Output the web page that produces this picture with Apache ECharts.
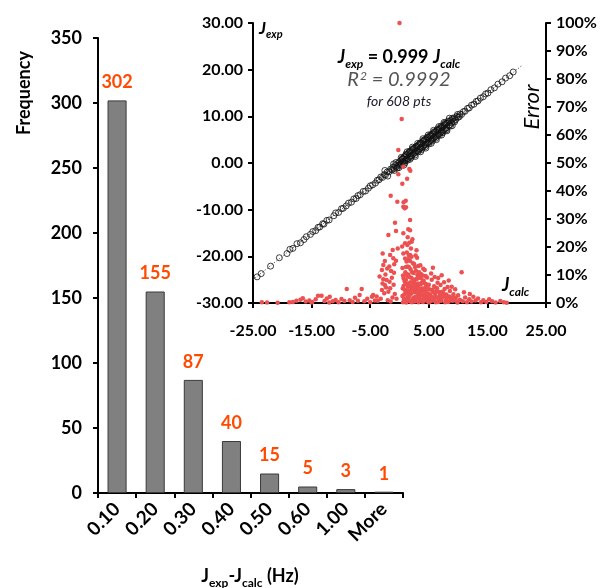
<!DOCTYPE html>
<html><head><meta charset="utf-8">
<script src="https://cdn.jsdelivr.net/npm/echarts@6/dist/echarts.min.js"></script>
<style>html,body{margin:0;padding:0;background:#fff}#c{width:607px;height:588px}</style>
</head><body><div id="c"></div>
<script>
// ---- histogram data ----
const binLabels = ['0.10','0.20','0.30','0.40','0.50','0.60','1.00','More'];
const binCounts = [302,155,87,40,15,5,3,1];
const freqTicks = {min:0,max:350,step:50};

// ---- inset: Jexp vs Jcalc (black circles) ----
const corrPts = [
[-24.3,-24.4],[-23.6,-23.7],[-22.0,-22.1],[-20.5,-20.3],[-19.2,-19.4],[-18.7,-18.5],[-18.2,-18.3],[-17.5,-17.3],[-16.9,-17.1],[-16.3,-16.4],[-15.9,-15.8],[-15.2,-15.3],[-14.8,-14.7],[-14.3,-14.5],[-13.9,-13.8],[-13.6,-13.7],[-13.1,-13.0],[-12.9,-13.1],[-12.4,-12.3],[-12.0,-12.2],[-11.2,-11.3],[-10.9,-10.7],[-10.4,-10.6],[-9.9,-9.8],[-9.6,-9.7],[-9.1,-9.2],[-8.7,-8.6],[-8.2,-8.4],[-7.8,-7.7],[-7.4,-7.6],[-7.1,-7.0],[-6.7,-6.8],[-6.2,-6.1],[-5.8,-6.0],[-5.3,-5.4],[-5.0,-4.9],[-4.6,-4.7],[-4.1,-4.3],[-3.8,-3.7],[-3.5,-3.6],[-3.2,-3.0],[-2.9,-3.1],[-2.6,-2.5],[-2.4,-2.6],[-2.1,-1.9],[-1.8,-1.9],[-1.5,-1.3],[-1.3,-1.5],[-1.1,-0.9],[-0.9,-1.2],[-0.7,-0.5],[-0.5,-0.8],[-0.3,-0.1],[-0.2,-0.5],
[0.0,0.3],[0.1,-0.3],[0.2,0.5],[0.3,-0.1],[0.4,0.8],[0.5,0.2],[0.6,0.9],[0.7,0.1],[0.8,1.3],[0.9,0.5],[1.0,1.5],[1.1,0.6],[1.2,1.7],[1.3,0.9],[1.4,1.9],[1.5,1.0],[1.6,2.2],[1.7,1.3],[1.8,2.4],[1.9,1.5],[2.0,2.6],[2.1,1.6],[2.2,2.8],[2.3,1.9],[2.4,3.0],[2.5,2.1],[2.6,3.2],[2.7,2.3],[2.8,3.4],[2.9,2.5],[3.0,3.6],[3.1,2.6],[3.2,3.8],[3.3,2.9],[3.4,4.0],[3.5,3.0],[3.6,4.2],[3.7,3.3],[3.8,4.3],[3.9,3.4],[4.0,4.6],[4.1,3.6],[4.2,4.8],[4.3,3.9],[4.4,5.0],[4.5,4.0],[4.6,5.1],[4.7,4.2],[4.8,5.4],[4.9,4.4],[5.0,5.5],[5.1,4.6],[5.2,5.8],[5.3,4.8],[5.4,5.9],[5.5,5.0],[5.6,6.2],[5.7,5.2],[5.8,6.3],[5.9,5.4],[6.0,6.6],[6.1,5.6],[6.2,6.7],[6.3,5.8],[6.4,7.0],[6.5,6.0],[6.6,7.1],[6.7,6.2],[6.8,7.3],[6.9,6.4],[7.0,7.5],[7.1,6.6],[7.2,7.7],[7.3,6.8],[7.4,7.9],[7.5,7.0],[7.6,8.1],[7.7,7.2],[7.8,8.3],[7.9,7.4],[8.0,8.5],[8.1,7.6],[8.2,8.6],[8.4,8.0],[8.5,8.9],[8.6,8.2],[8.8,9.1],[8.9,8.6],[9.1,9.4],[9.2,8.9],[9.4,9.7],[9.6,9.3],[9.8,10.0],[10.0,9.8],[10.3,10.5],[10.6,10.4],[10.9,11.0],[11.2,11.1],[11.6,11.7],[11.9,11.8],[12.3,12.4],[12.7,12.6],[13.1,13.2],[13.4,13.3],[13.8,13.9],[14.3,14.2],[14.7,14.8],[15.1,15.0],[15.6,15.7],[16.2,16.1],[16.8,16.9],[17.5,17.4],[18.1,18.2],[18.8,18.7],[19.4,19.5],
[0.2,-0.5],[0.5,1.0],[0.9,0.0],[1.1,1.9],[1.4,0.6],[1.7,2.5],[2.0,1.2],[2.3,3.1],[2.6,1.7],[2.9,3.6],[3.2,2.4],[3.5,4.3],[3.8,2.9],[4.1,4.9],[4.4,3.5],[4.7,5.5],[5.0,4.1],[5.3,6.1],[5.6,4.7],[5.9,6.7],[6.2,5.3],[6.5,7.3],[6.8,5.9],[7.1,7.9],[7.4,6.5],[7.7,8.5],[8.0,7.1],[8.3,9.0],[8.7,7.9],[9.0,9.6],[9.4,8.8],[-0.6,0.1],[-0.9,-1.6],[-0.4,-1.1],[9.9,10.4],[10.2,9.9],
[0.3,1.2],[0.8,-0.4],[1.3,2.4],[1.8,0.8],[2.2,3.4],[2.7,1.4],[3.1,4.2],[3.6,2.4],[4.0,5.2],[4.5,3.2],[4.9,6.0],[5.4,4.2],[5.8,7.0],[6.3,5.0],[6.7,7.8],[7.2,6.0],[7.6,8.7],[8.1,6.9],[8.5,9.6],[9.0,8.0],[-1.0,-0.2],[-0.1,-1.0],[-2.0,-2.8],[-2.5,-1.6]
];
const fitLineX = [-25, 21];
const fitLineY = [-25, 21];

// ---- inset: error (%) vs Jcalc (red points) ----
const errPts = [
[0.0,100],[0.37,65.7],[-0.2,54.6],[0.65,48.7],[1.67,47.9],[1.84,47.2],[-0.2,46.0],[1.3,44.4],[0.48,42.6],[-1.5,38.3],[1.06,36.5],[0.65,34.4],[0.89,33.8],[-0.37,36.2],[0.7,36.0],[1.1,34.2],[1.8,29.6],[-0.77,28.7],[1.5,26.3],[1.8,26.0],[-0.6,25.7],[0.65,24.9],[-1.9,24.3],[0.94,21.3],[1.67,21.5],[2.08,21.9],[1.33,20.7],[-0.3,19.5],[-1.16,18.9],[-2.87,17.7],[-1.6,17.1],[0.65,17.7],[1.8,17.1],[-1.06,16.0],[-0.6,15.1],[1.2,14.8],[1.5,15.6],[-2.76,13.6],[-3.0,11.8],[-1.74,13.0],[-1.45,11.4],[-0.94,10.8],[-2.76,8.5],[-2.2,8.2],[-2.5,6.4],[-3.0,4.6],[-1.9,4.0],[-1.6,5.3],[-4.5,2.9],[-3.9,2.3],
[-3.4,9.5],[-2.9,7.0],[-2.4,10.2],[-2.1,12.3],[-1.3,9.0],[-1.0,6.5],[-0.8,3.2],[-1.2,2.0],[-2.6,3.5],[-3.2,1.5],[-2.0,1.0],[-1.5,0.5],[-0.5,1.5],[-3.7,0.8],[-2.3,5.5],[-1.7,7.6],[-0.9,13.8],[-2.5,15.0],
[0.5,12.5],[0.6,9.8],[0.7,6.1],[0.8,3.0],[0.9,0.8],[1.0,11.0],[1.1,8.2],[1.2,4.5],[1.3,1.9],[1.4,13.0],[1.5,10.1],[1.6,7.0],[1.7,2.7],[1.8,0.5],[1.9,12.0],[2.0,9.0],[2.1,5.4],[2.2,1.3],[2.3,14.2],[2.4,10.7],[2.5,7.7],[2.6,3.8],[2.7,0.9],[2.8,11.5],[2.9,8.6],[3.0,5.9],[3.1,2.3],[3.2,13.2],[3.3,9.4],[3.4,6.6],[3.5,1.1],[3.6,4.2],[3.7,10.3],[3.8,7.3],[3.9,2.9],[4.0,0.4],[4.1,8.0],[4.2,5.0],[4.3,11.8],[4.4,1.6],[4.5,6.8],[4.6,3.4],[4.7,9.1],[4.8,0.7],[4.9,4.8],
[0.55,5.2],[0.75,1.4],[0.95,15.9],[1.05,4.0],[1.25,18.0],[1.45,5.8],[1.65,12.8],[1.85,3.9],[2.05,16.5],[2.25,7.2],[2.45,2.0],[2.65,12.9],[2.85,4.6],[3.05,10.0],[3.25,0.3],[3.45,3.0],[3.65,8.9],[3.85,5.2],[4.05,12.2],[4.25,2.5],[4.45,9.6],[4.65,0.9],[4.85,6.2],[0.6,0.3],[1.15,0.2],[1.55,2.0],[2.35,4.8],[2.95,1.7],[3.35,11.0],[3.95,9.8],[0.85,7.9],[1.35,9.5],[1.75,6.0],[2.15,11.0],[2.55,5.0],[3.15,7.0],[3.55,13.5],[4.35,4.0],[4.75,2.2],[1.95,19.5],[2.75,17.0],[0.45,20.2],[1.4,23.5],[2.2,22.8],
[5.0,6.5],[5.2,3.1],[5.3,0.6],[5.5,8.3],[5.6,4.6],[5.8,1.8],[5.9,6.0],[6.1,2.9],[6.2,0.3],[6.4,5.3],[6.5,7.2],[6.7,1.4],[6.8,3.9],[7.0,6.4],[7.1,0.8],[7.3,4.0],[7.4,2.2],[7.6,7.4],[7.7,5.0],[7.9,1.0],[8.0,3.0],[8.2,5.7],[8.3,0.4],[8.5,2.3],[8.6,4.3],[8.8,1.5],[8.9,5.8],[9.1,0.8],[9.2,3.1],[9.5,4.9],[9.6,1.9],[9.8,0.5],[10.0,2.8],[10.3,1.2],[10.6,11.0],[5.4,10.5],[6.0,9.3],[6.6,8.9],[5.7,12.6],[7.2,9.9],[8.4,8.0],[5.1,1.5],[6.3,4.0],[7.8,2.6],[9.0,2.0],
[0.5,2.5],[0.7,8.8],[0.9,4.7],[1.0,6.9],[1.2,10.4],[1.3,3.3],[1.5,1.2],[1.6,4.4],[1.7,9.3],[1.9,7.4],[2.0,3.4],[2.1,0.3],[2.3,6.0],[2.4,8.4],[2.6,0.5],[2.7,6.7],[2.8,2.2],[3.0,3.7],[3.1,8.8],[3.3,5.1],[3.4,1.9],[3.6,6.6],[3.8,0.9],[3.9,4.5],[4.1,2.0],[4.2,7.1],[4.4,5.5],[4.6,1.2],[4.8,3.3],[5.0,0.2],[5.2,4.8],[5.4,2.2],[5.6,1.0],[5.8,3.8],[6.0,0.8],[6.1,5.5],[6.4,2.0],[6.6,0.4],[6.9,2.8],[7.2,1.6],[7.5,3.5],[7.8,0.3],[8.1,1.8],[8.7,0.9],[9.3,1.5],[9.9,0.2],[1.1,12.9],[2.5,13.9],[1.8,15.0],[3.0,16.2],[2.9,18.8],[1.6,17.0],
[10.8,0.6],[11.2,2.0],[11.5,0.3],[11.9,1.3],[12.3,0.5],[12.6,2.2],[13.0,0.9],[13.4,1.6],[13.9,0.3],[14.3,1.0],[14.8,0.4],[15.3,1.3],[15.8,0.6],[16.4,0.2],[17.2,0.7],[17.8,0.3],[18.3,0.1],[11.0,3.8],[12.0,3.2],
[-23.5,0.3],[-22.6,0.2],[-20.8,0.1],[-18.8,0.3],[-17.6,0.8],[-16.9,1.2],[-16.5,1.7],[-16.0,0.5],[-15.4,0.9],[-14.9,0.4],[-14.3,1.3],[-13.9,2.6],[-13.3,2.6],[-12.8,0.7],[-12.4,1.6],[-11.9,2.2],[-11.4,0.6],[-10.9,1.1],[-10.4,0.3],[-9.9,1.4],[-9.4,0.7],[-9.0,5.0],[-8.5,1.0],[-8.0,0.4],[-7.6,1.9],[-7.1,0.8],[-6.8,2.9],[-6.45,5.0],[-6.0,0.6],[-5.5,1.5],[-5.0,0.3],[-4.7,2.2],[-4.2,0.9],[-12.0,0.2],[-15.0,0.2],[-18.2,0.4]
];

const FONT = 'Lato';
const chart = echarts.init(document.getElementById('c'), null, {renderer:'canvas'});
const axisBlack = {show:true, onZero:false, lineStyle:{color:'#000', width:2}};
const tickBlack = {show:true, length:5, lineStyle:{color:'#000', width:2}};

// rich text styles: all tokens top-aligned, subscripts pushed down with top padding
function richSet(size, style, color){
  return {
    m:{font:style+' '+size+'px '+FONT, fill:color, verticalAlign:'top', lineHeight:size+4},
    i:{font:'italic '+style+' '+size+'px '+FONT, fill:color, verticalAlign:'top', lineHeight:size+4},
    s:{font:'italic '+style+' '+Math.round(size*0.66)+'px '+FONT, fill:color, verticalAlign:'top', padding:[Math.round(size*0.55),0,0,0]},
    n:{font:style+' '+Math.round(size*0.66)+'px '+FONT, fill:color, verticalAlign:'top', padding:[Math.round(size*0.55),0,0,0]},
    p:{font:'italic '+Math.round(size*0.6)+'px '+FONT, fill:color, verticalAlign:'top', padding:[0,0,0,1]}
  };
}

chart.setOption({
  animation:false,
  backgroundColor:'#fff',
  grid:[
    {left:98, top:38, width:305, height:455},
    {left:253, top:23, width:293, height:280}
  ],
  xAxis:[
    {type:'category', gridIndex:0, data:binLabels,
     axisLine:axisBlack, axisTick:tickBlack,
     axisLabel:{rotate:45, color:'#000', fontFamily:FONT, fontWeight:'bold', fontSize:19, margin:13, interval:0},
     splitLine:{show:false}},
    {type:'value', gridIndex:1, min:-25, max:25, interval:10,
     axisLine:axisBlack, axisTick:tickBlack,
     axisLabel:{color:'#000', fontFamily:FONT, fontWeight:'bold', fontSize:16, margin:20, formatter:v=>v.toFixed(2), showMinLabel:true, showMaxLabel:true},
     splitLine:{show:false}}
  ],
  yAxis:[
    {type:'value', gridIndex:0, min:freqTicks.min, max:freqTicks.max, interval:freqTicks.step,
     axisLine:axisBlack, axisTick:tickBlack,
     axisLabel:{color:'#000', fontFamily:FONT, fontWeight:'bold', fontSize:18, margin:16},
     splitLine:{show:false}},
    {type:'value', gridIndex:1, position:'left', min:-30, max:30, interval:10,
     axisLine:axisBlack, axisTick:tickBlack,
     axisLabel:{color:'#000', fontFamily:FONT, fontWeight:'bold', fontSize:16, margin:10, formatter:v=>v.toFixed(2)},
     splitLine:{show:false}},
    {type:'value', gridIndex:1, position:'right', min:0, max:100, interval:10,
     axisLine:axisBlack, axisTick:tickBlack,
     axisLabel:{color:'#000', fontFamily:FONT, fontWeight:'bold', fontSize:16, margin:10, formatter:'{value}%'},
     splitLine:{show:false}}
  ],
  series:[
    {type:'bar', xAxisIndex:0, yAxisIndex:0, data:binCounts, barWidth:'50%',
     itemStyle:{color:'#808080', borderColor:'#3a3a3a', borderWidth:1},
     label:{show:true, position:'top', distance:9, color:'#ff4a00', fontFamily:FONT, fontWeight:'bold', fontSize:18}},
    {type:'line', xAxisIndex:1, yAxisIndex:1, data:fitLineX.map((x,i)=>[x, fitLineY[i]]),
     symbol:'none', lineStyle:{color:'#333', width:1, type:[1,2]}, z:2},
    {type:'scatter', xAxisIndex:1, yAxisIndex:1, data:corrPts, symbol:'circle', symbolSize:6,
     itemStyle:{color:'rgba(0,0,0,0)', borderColor:'#111', borderWidth:1}, z:3},
    {type:'scatter', xAxisIndex:1, yAxisIndex:2, data:errPts, symbol:'circle', symbolSize:4.5,
     itemStyle:{color:'#ec5050', opacity:1}, z:4}
  ],
  graphic:[
    {type:'text', x:24, y:93, rotation:Math.PI/2,
     style:{text:'Frequency', font:'bold 18px '+FONT, fill:'#000', align:'center', verticalAlign:'middle'}},
    {type:'text', x:532, y:107, rotation:Math.PI/2,
     style:{text:'Error', font:'italic 22px '+FONT, fill:'#000', align:'center', verticalAlign:'middle'}},
    {type:'text', x:250, y:567,
     style:{text:'{m|J}{n|exp}{m|-J}{n|calc}{m| (Hz)}', align:'center', verticalAlign:'top',
       rich:richSet(18,'bold','#000')}},
    {type:'text', x:259, y:20,
     style:{text:'{i|J}{s|exp}', align:'left', verticalAlign:'top', rich:richSet(17,'bold','#000')}},
    {type:'text', x:399, y:48,
     style:{text:'{i|J}{s|exp}{m| = 0.999 }{i|J}{s|calc}', align:'center', verticalAlign:'top', rich:richSet(18,'bold','#000')}},
    {type:'text', x:399, y:70,
     style:{text:'{i|R}{p|2}{i| = 0.9992}', align:'center', verticalAlign:'top', rich:richSet(20,'normal','#555')}},
    {type:'text', x:399, y:101,
     style:{text:'for 608 pts', font:'italic 14px '+FONT, fill:'#1a1a2a', align:'center', verticalAlign:'middle'}},
    {type:'text', x:502, y:276,
     style:{text:'{i|J}{s|calc}', align:'left', verticalAlign:'top', rich:richSet(18,'bold','#000')}}
  ]
});
</script></body></html>
